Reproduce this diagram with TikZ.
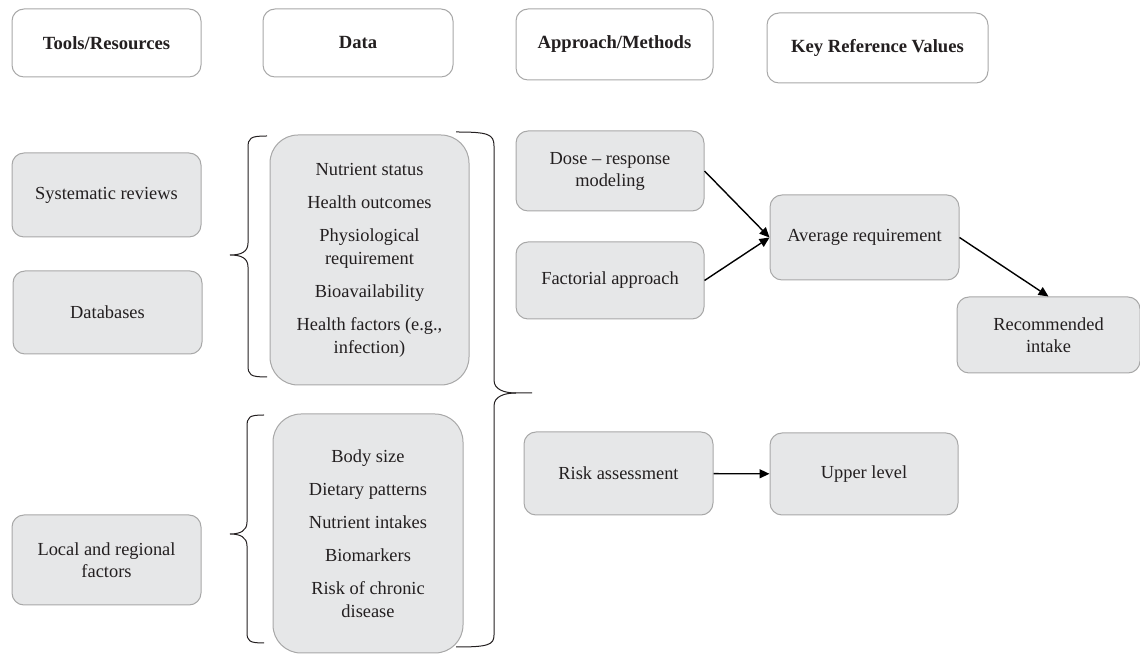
\documentclass[tikz,border=0pt]{standalone}
\usepackage{fontspec}
\setmainfont{Liberation Serif}
\usetikzlibrary{arrows.meta}
\definecolor{boxfill}{HTML}{E6E7E8}
\definecolor{boxline}{HTML}{A8A8A8}
\definecolor{ink}{HTML}{231F20}
\tikzstyle{head}=[rectangle,rounded corners=6pt,draw=boxline,fill=white,line width=0.5pt,inner sep=0pt,font=\fontsize{9.3}{11.5}\selectfont\bfseries,text=ink]
\tikzstyle{item}=[rectangle,rounded corners=6pt,draw=boxline,fill=boxfill,line width=0.5pt,inner sep=0pt,align=center,font=\fontsize{9.2}{11}\selectfont,text=ink]
\tikzstyle{datalist}=[item,rounded corners=14pt,font=\fontsize{9.2}{11.5}\selectfont]
\tikzstyle{edge}=[draw,line width=0.7pt,-{Triangle[length=5pt,width=4.5pt]}]
\tikzstyle{brace}=[draw,ink,line width=0.5pt]

\begin{document}
\begin{tikzpicture}[x=0.5pt,y=-0.5pt]
    \useasboundingbox (0,0) rectangle (1140,656);

    % column heads
    \node[head, minimum width=94.5pt, minimum height=34pt] (tools) at (106.5,43) {Tools/Resources};
    \node[head, minimum width=95pt, minimum height=34pt] (data) at (358,43) {Data};
    \node[head, minimum width=98.5pt, minimum height=35.5pt] (approach) at (614.5,44.5) {Approach/Methods};
    \node[head, minimum width=110.5pt, minimum height=35pt] (keyref) at (877.5,48) {Key Reference Values};

    % tools
    \foreach \pos/\h/\name/\txt in {{(106.5,195)/42/sysrev/{Systematic reviews}},
                                    {(107.5,312.5)/41.5/dbase/{Databases}},
                                    {(106.5,560)/45/local/{Local and regional\\factors}}}
        \node[item, minimum width=94.5pt, minimum height=\h pt] (\name) at \pos {\txt};

    % data
    \node[datalist, minimum width=99.5pt, minimum height=125pt] (status) at (369.5,260)
        {Nutrient status\\[5pt]Health outcomes\\[5pt]Physiological\\requirement\\[5pt]Bioavailability\\[5pt]Health factors (e.g.,\\infection)};
    \node[datalist, minimum width=95pt, minimum height=119.5pt] (diet) at (368,533.5)
        {Body size\\[5pt]Dietary patterns\\[5pt]Nutrient intakes\\[5pt]Biomarkers\\[5pt]Risk of chronic\\disease};

    % approach / methods
    \node[item, minimum width=94pt, minimum height=40pt] (dose) at (610,171) {Dose -- response\\modeling};
    \node[item, minimum width=94pt, minimum height=38.5pt] (factorial) at (610,280.5) {Factorial approach};
    \node[item, minimum width=94.5pt, minimum height=41.5pt] (risk) at (618.5,473.5) {Risk assessment};

    % reference values
    \node[item, minimum width=94.5pt, minimum height=42.5pt] (average) at (864.5,237.5) {Average requirement};
    \node[item, minimum width=91.5pt, minimum height=38pt] (recommended) at (1048.5,335) {Recommended\\intake};
    \node[item, minimum width=94pt, minimum height=41pt] (upper) at (864,474) {Upper level};

    \path[edge] (dose.east) -- (average.west);
    \path[edge] (factorial.east) -- (average.west);
    \path[edge] (average.east) -- (recommended.north);
    \path[edge] (risk) -- (upper);

    % braces
    \draw[brace] (267,136) .. controls (250,136) and (248,138) .. (248,148) -- (248,243)
        .. controls (248,252) and (241,255) .. (230,255) .. controls (241,255) and (248,258) .. (248,267)
        -- (248,365) .. controls (248,375) and (250,377) .. (267,377);
    \draw[brace] (456,132) .. controls (488,132) and (494,134) .. (494,146) -- (494,380)
        .. controls (494,390) and (505,393) .. (516,393) -- (532,393);
    \draw[brace] (516,393) .. controls (505,393) and (494,396) .. (494,406) -- (494,635)
        .. controls (494,645) and (488,647) .. (456,647);
    \draw[brace] (264,415) .. controls (249,415) and (247,417) .. (247,427) -- (247,522)
        .. controls (247,531) and (240,534) .. (230,534) .. controls (240,534) and (247,537) .. (247,546)
        -- (247,632) .. controls (247,641) and (249,643) .. (264,643);

\end{tikzpicture}
\end{document}
